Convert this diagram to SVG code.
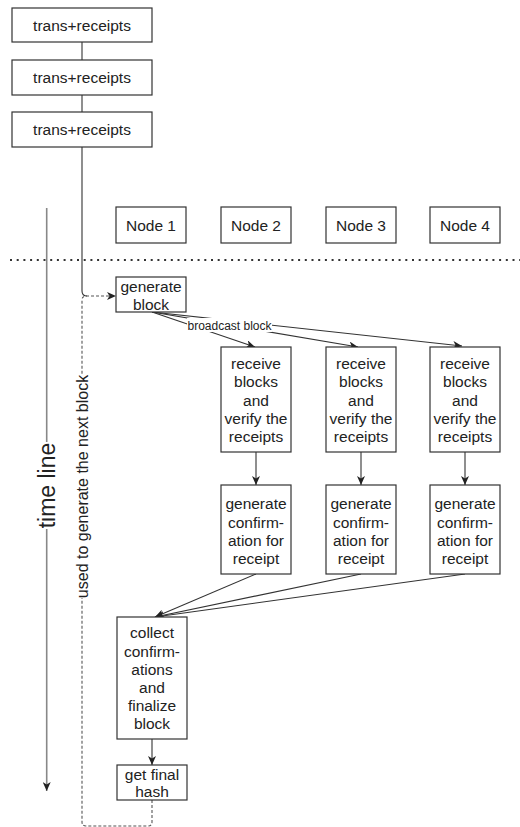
<svg xmlns="http://www.w3.org/2000/svg" width="520" height="827" viewBox="0 0 520 827">
<style>
.box{fill:#fff;stroke:#333;stroke-width:1.2}
.t{font-family:"Liberation Sans",Arial,sans-serif;font-size:15.5px;fill:#222;text-anchor:middle}
.e{fill:none;stroke:#333;stroke-width:1.1}
.lbl{font-family:"Liberation Sans",Arial,sans-serif;font-size:12px;fill:#222;text-anchor:middle}
</style>
<defs>
<marker id="ah" markerUnits="userSpaceOnUse" markerWidth="10" markerHeight="8" refX="9" refY="4" orient="auto">
<path d="M0,0 L9,4 L0,8 L2.5,4 z" fill="#222"/>
</marker>
</defs>
<g id="connectors">
<line x1="82" y1="42" x2="82" y2="60" class="e" stroke="#555"/>
<line x1="82" y1="95" x2="82" y2="112" class="e" stroke="#555"/>
<path d="M82,147 V291 Q82,296 87,296" class="e"/>
<path d="M152,800 V822 Q152,826 148,826 H86 Q82,826 82,822 V300 Q82,296 86,296 H116" fill="none" stroke="#555" stroke-width="1.1" stroke-dasharray="3,2" marker-end="url(#ah)"/>
<line x1="10" y1="260" x2="520" y2="260" stroke="#333" stroke-width="2" stroke-dasharray="2,4.7"/>
<line x1="46.7" y1="208" x2="46.7" y2="791" stroke="#888" stroke-width="1.6" marker-end="url(#ah)"/>
<line x1="152" y1="312" x2="255" y2="347" class="e" marker-end="url(#ah)"/>
<line x1="152" y1="312" x2="358" y2="347" class="e" marker-end="url(#ah)"/>
<line x1="152" y1="312" x2="462" y2="346" class="e" marker-end="url(#ah)"/>
<line x1="256" y1="452" x2="256" y2="485" class="e" marker-end="url(#ah)"/>
<line x1="361" y1="452" x2="361" y2="485" class="e" marker-end="url(#ah)"/>
<line x1="465" y1="452" x2="465" y2="485" class="e" marker-end="url(#ah)"/>
<line x1="256" y1="574" x2="155" y2="617" class="e" marker-end="url(#ah)"/>
<line x1="361" y1="574" x2="155" y2="617" class="e" marker-end="url(#ah)"/>
<line x1="465" y1="574" x2="155" y2="617" class="e" marker-end="url(#ah)"/>
<line x1="152" y1="739" x2="152" y2="765" class="e" marker-end="url(#ah)"/>
</g>
<g id="labels">
<rect x="187" y="318" width="85" height="14" fill="#fff"/>
<text class="lbl" x="229.5" y="329.5">broadcast block</text>
<rect x="37" y="442" width="19" height="87" fill="#fff"/>
<text transform="translate(55,485.5) rotate(-90)" font-family="Liberation Sans, Arial, sans-serif" font-size="23" fill="#222" text-anchor="middle">time line</text>
<rect x="76" y="375" width="13" height="223" fill="#fff"/>
<text transform="translate(88,486.5) rotate(-90)" font-family="Liberation Sans, Arial, sans-serif" font-size="16" fill="#222" text-anchor="middle">used to generate the next block</text>
</g>
<g id="tr1"><rect class="box" x="12" y="8" width="140" height="34"/><text class="t" x="82" y="30.5">trans+receipts</text></g>
<g id="tr2"><rect class="box" x="12" y="60" width="140" height="35"/><text class="t" x="82" y="83">trans+receipts</text></g>
<g id="tr3"><rect class="box" x="12" y="112" width="140" height="35"/><text class="t" x="82" y="135">trans+receipts</text></g>
<g id="node1"><rect class="box" x="116" y="207" width="70" height="36"/><text class="t" x="151" y="230.5">Node 1</text></g>
<g id="node2"><rect class="box" x="221" y="207" width="70" height="36"/><text class="t" x="256" y="230.5">Node 2</text></g>
<g id="node3"><rect class="box" x="326" y="207" width="70" height="36"/><text class="t" x="361" y="230.5">Node 3</text></g>
<g id="node4"><rect class="box" x="430" y="207" width="70" height="36"/><text class="t" x="465" y="230.5">Node 4</text></g>
<g id="gen"><rect class="box" x="116" y="277" width="70" height="35"/><text class="t" x="151" y="292">generate</text><text class="t" x="151" y="309.5">block</text></g>
<g id="recv2"><rect class="box" x="221" y="347" width="70" height="105"/>
<text class="t" x="256" y="368.8">receive</text><text class="t" x="256" y="387.1">blocks</text><text class="t" x="256" y="405.5">and</text><text class="t" x="256" y="423.8">verify the</text><text class="t" x="256" y="442.2">receipts</text></g>
<g id="recv3"><rect class="box" x="326" y="347" width="70" height="105"/>
<text class="t" x="361" y="368.8">receive</text><text class="t" x="361" y="387.1">blocks</text><text class="t" x="361" y="405.5">and</text><text class="t" x="361" y="423.8">verify the</text><text class="t" x="361" y="442.2">receipts</text></g>
<g id="recv4"><rect class="box" x="430" y="347" width="70" height="105"/>
<text class="t" x="465" y="368.8">receive</text><text class="t" x="465" y="387.1">blocks</text><text class="t" x="465" y="405.5">and</text><text class="t" x="465" y="423.8">verify the</text><text class="t" x="465" y="442.2">receipts</text></g>
<g id="conf2"><rect class="box" x="221" y="485" width="70" height="89"/>
<text class="t" x="256" y="509">generate</text><text class="t" x="256" y="527.5">confirm-</text><text class="t" x="256" y="545.5">ation for</text><text class="t" x="256" y="563.5">receipt</text></g>
<g id="conf3"><rect class="box" x="326" y="485" width="70" height="89"/>
<text class="t" x="361" y="509">generate</text><text class="t" x="361" y="527.5">confirm-</text><text class="t" x="361" y="545.5">ation for</text><text class="t" x="361" y="563.5">receipt</text></g>
<g id="conf4"><rect class="box" x="430" y="485" width="70" height="89"/>
<text class="t" x="465" y="509">generate</text><text class="t" x="465" y="527.5">confirm-</text><text class="t" x="465" y="545.5">ation for</text><text class="t" x="465" y="563.5">receipt</text></g>
<g id="collect"><rect class="box" x="117" y="617" width="70" height="122"/>
<text class="t" x="152" y="638">collect</text><text class="t" x="152" y="657">confirm-</text><text class="t" x="152" y="675">ations</text><text class="t" x="152" y="693">and</text><text class="t" x="152" y="711">finalize</text><text class="t" x="152" y="729">block</text></g>
<g id="hash"><rect class="box" x="117" y="765" width="70" height="35"/><text class="t" x="152" y="779.5">get final</text><text class="t" x="152" y="797">hash</text></g>
</svg>
